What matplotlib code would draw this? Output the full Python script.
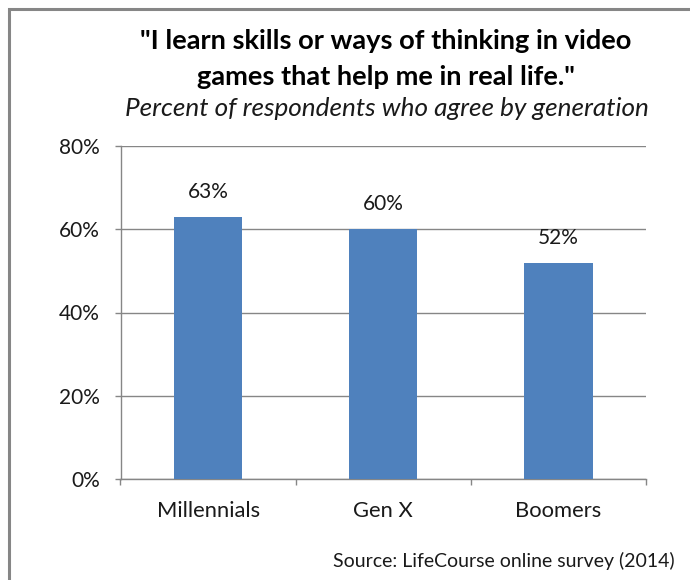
import matplotlib.pyplot as plt
from matplotlib.patches import Rectangle
from matplotlib.ticker import FuncFormatter

generations = ['Millennials', 'Gen X', 'Boomers']
agree_pct = [63, 60, 52]
y_ticks = [0, 20, 40, 60, 80]

BAR_BLUE = '#4F81BD'
GRID_GRAY = '#868686'
TEXT = '#1a1a1a'
FONT = 'Lato'

plt.rcParams['font.family'] = FONT

W, H = 690, 580
fig = plt.figure(figsize=(W / 100, H / 100), dpi=100)
fig.patch.set_facecolor('white')


def fx(px):
    return px / W


def fy(px):
    return 1 - px / H


# chart frame (only top and left edges fall inside the image)
fig.add_artist(Rectangle((fx(8.5), -0.1), 1.2, 1.1 - 9.5 / H,
                         transform=fig.transFigure, fill=False,
                         edgecolor=GRID_GRAY, linewidth=2.2, clip_on=False))

ax = fig.add_axes([fx(120.5), fy(479), 525.5 / W, 333 / H])
x = range(len(generations))
ax.bar(x, agree_pct, width=0.39, color=BAR_BLUE, zorder=3)

for xi, v in zip(x, agree_pct):
    ax.annotate(f'{v}%', (xi, v), xytext=(0, 13.5), textcoords='offset points',
                ha='center', va='baseline', fontsize=15, color=TEXT)

ax.set_xlim(-0.5, len(generations) - 0.5)
ax.set_ylim(0, 80)
ax.set_yticks(y_ticks)
ax.yaxis.set_major_formatter(FuncFormatter(lambda v, _: f'{v:.0f}%'))
ax.yaxis.grid(True, color=GRID_GRAY, linewidth=1.0, zorder=0)

ax.set_xticks(list(x))
ax.set_xticklabels(generations)
ax.set_xticks([i - 0.5 for i in range(len(generations) + 1)], minor=True)
ax.tick_params(axis='x', which='major', length=0, pad=16, labelsize=15.8, labelcolor=TEXT)
ax.tick_params(axis='x', which='minor', length=4.5, width=1.0, color=GRID_GRAY, direction='out')
ax.tick_params(axis='y', length=4.5, width=1.0, color=GRID_GRAY, pad=10.5, labelsize=15, labelcolor=TEXT)

for side in ('top', 'right'):
    ax.spines[side].set_visible(False)
for side in ('left', 'bottom'):
    ax.spines[side].set_color(GRID_GRAY)
    ax.spines[side].set_linewidth(1.0)

fig.text(fx(386), fy(49), '"I learn skills or ways of thinking in video',
         ha='center', va='baseline', fontsize=19.6, fontweight='bold', color='black')
fig.text(fx(386), fy(85), 'games that help me in real life."',
         ha='center', va='baseline', fontsize=19.6, fontweight='bold', color='black')
fig.text(fx(387), fy(116.5), 'Percent of respondents who agree by generation',
         ha='center', va='baseline', fontsize=18.8, fontstyle='italic', color=TEXT)
fig.text(fx(675), fy(567), 'Source: LifeCourse online survey (2014)',
         ha='right', va='baseline', fontsize=14, color=TEXT)

fig.savefig('out.png', dpi=100, facecolor='white')
